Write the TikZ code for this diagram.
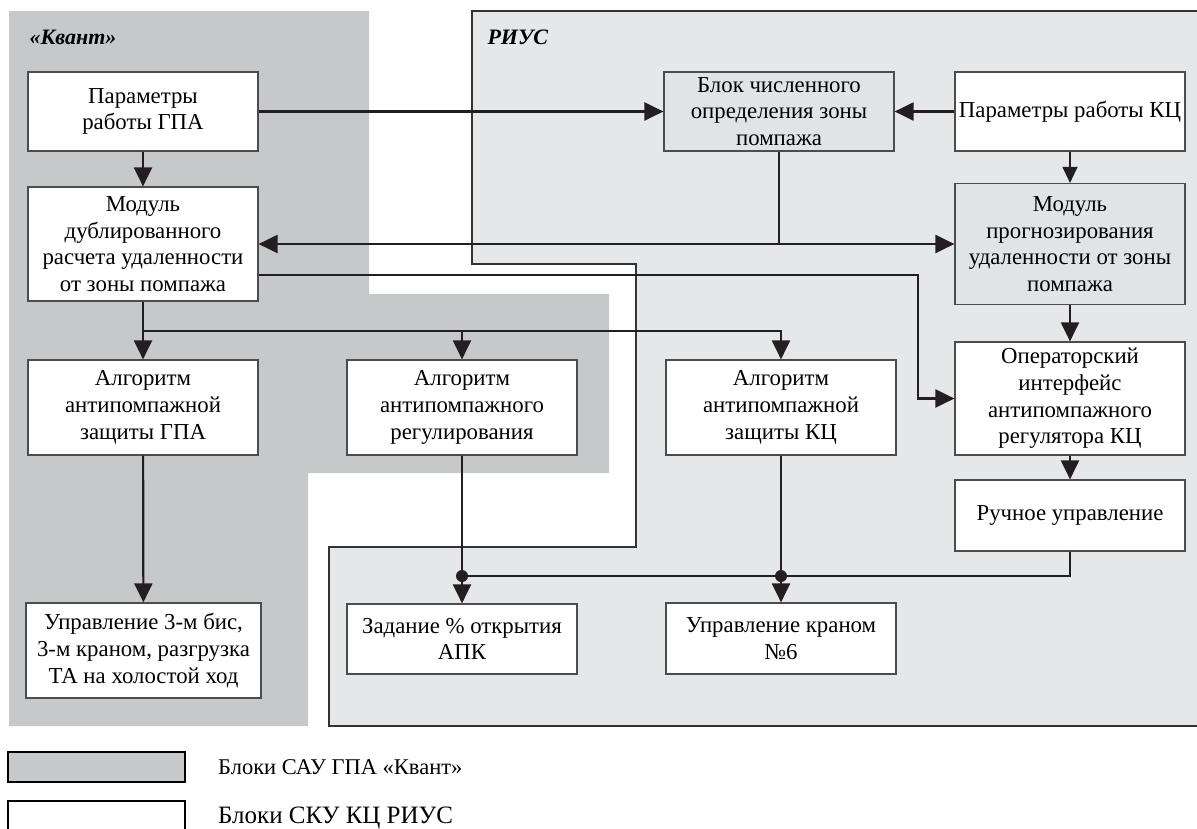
\documentclass[tikz,border=0pt]{standalone}
\usepackage{fontspec}
\setmainfont{Liberation Serif}
\usetikzlibrary{calc}
\usetikzlibrary{positioning}
\usetikzlibrary{arrows.meta}
\definecolor{kvantgray}{RGB}{199,200,202}
\definecolor{riusgray}{RGB}{230,231,232}
\definecolor{blokgray}{RGB}{226,227,229}
\definecolor{lineblack}{RGB}{35,31,32}
\tikzstyle{arrow} = [draw=lineblack,line width=2.2pt,-{Triangle[length=19pt,width=18pt]}]
\tikzstyle{thinarrow} = [draw=lineblack,line width=1.2pt,-{Triangle[length=16pt,width=15pt]}]
\tikzstyle{link} = [draw=lineblack,line width=2.2pt]
\tikzstyle{blok} = [draw=black!70,line width=1.2pt,fill=white,align=center,inner sep=0pt,minimum width=230pt,font=\fontsize{22.8}{26.7}\selectfont]
\tikzstyle{title} = [anchor=west,font=\fontsize{22}{26}\selectfont\bfseries\itshape]
\tikzstyle{legbox} = [draw=black,line width=2pt,minimum width=177pt,minimum height=30pt,inner sep=0pt]

\begin{document}
\begin{tikzpicture}[x=1pt,y=-1pt]
	\useasboundingbox (0,0) rectangle (1197,828);
	\clip (0,0) rectangle (1197,828);
	\fill[kvantgray] (9,11) -- (369,11) -- (369,294) -- (609,294) -- (609,473) -- (308,473) -- (308,726) -- (9,726) -- cycle;
	\filldraw[fill=riusgray,draw=black!80,line width=1.2pt] (472,11) -- (1210,11) -- (1210,726) -- (329,726) -- (329,547) -- (636,547) -- (636,264) -- (472,264) -- cycle;
	\node[title] (kvant) at (26,37) {«Квант»};
	\node[title] (rius) at (484,37) {РИУС};

	\node[blok,minimum height=79pt] (pgpa) at (143,111.5) {Параметры\\работы ГПА};
	\node[blok,minimum height=114pt] (modul) at (143,244) {Модуль\\дублированного\\расчета удаленности\\от зоны помпажа};
	\node[blok,minimum height=95pt] (agpa) at (143,407.5) {Алгоритм\\антипомпажной\\защиты ГПА};
	\node[blok,minimum height=95pt] (areg) at (462,407.5) {Алгоритм\\антипомпажного\\регулирования};
	\node[blok,minimum height=95pt,minimum width=235pt] (upr) at (143.5,650.5) {Управление 3-м бис,\\3-м краном, разгрузка\\ТА на холостой ход};
	\node[blok,minimum height=70pt] (zad) at (462,639) {Задание \% открытия\\АПК};
	\node[blok,minimum height=79pt,fill=blokgray] (blk) at (779,111.5) {Блок численного\\определения зоны\\помпажа};
	\node[blok,minimum height=79pt] (pkc) at (1070,111.5) {Параметры работы КЦ};
	\node[blok,minimum height=121pt,fill=blokgray] (progn) at (1070,244) {Модуль\\прогнозирования\\удаленности от зоны\\помпажа};
	\node[blok,minimum height=95pt] (akc) at (781,407.5) {Алгоритм\\антипомпажной\\защиты КЦ};
	\node[blok,minimum height=113pt] (oper) at (1070,398.5) {Операторский\\интерфейс\\антипомпажного\\регулятора КЦ};
	\node[blok,minimum height=71pt] (ruch) at (1070,515.5) {Ручное управление};
	\node[blok,minimum height=71pt] (kran) at (781,638.5) {Управление краном\\№6};

	\coordinate (br) at (143,331);
	\coordinate (knee) at (918,275);
	\coordinate (jz) at (462,576);
	\coordinate (jk) at (781,576);

	\draw[arrow] (pgpa.east) -- (blk.west);
	\draw[arrow] (pkc.west) -- (blk.east);
	\draw[arrow] (pgpa) -- (modul);
	\draw[arrow] (blk.south) |- (modul.east);
	\draw[arrow] (blk.south) |- (progn.west);
	\draw[thinarrow] (pkc) -- (progn);
	\draw[arrow] (modul.east |- knee) -- (knee) |- (oper.west);
	\draw[arrow] (modul) -- (agpa);
	\draw[arrow] (br) -| (areg.north);
	\draw[arrow] (br) -| (akc.north);
	\draw[arrow] (progn) -- (oper);
	\draw[arrow] (oper) -- (ruch);
	\draw[arrow] (agpa) -- (upr);
	\draw[arrow] (areg) -- (zad);
	\draw[arrow] (akc) -- (kran);
	\draw[link] (ruch.south) |- (jz);
	\fill[lineblack] (jz) circle (6pt);
	\fill[lineblack] (jk) circle (6pt);

	\node[legbox,fill=kvantgray] (leg1) at (96.5,767) {};
	\node[legbox,fill=white,minimum height=34pt] (leg2) at (96.5,818) {};
	\node[right=32pt of leg1,inner sep=0pt,font=\fontsize{22.5}{26}\selectfont] (leg1t) {Блоки САУ ГПА «Квант»};
	\node[anchor=west,inner sep=0pt,font=\fontsize{25}{28}\selectfont] (leg2t) at ($(leg1t.west)+(0,51)$) {Блоки СКУ КЦ РИУС};
\end{tikzpicture}
\end{document}
